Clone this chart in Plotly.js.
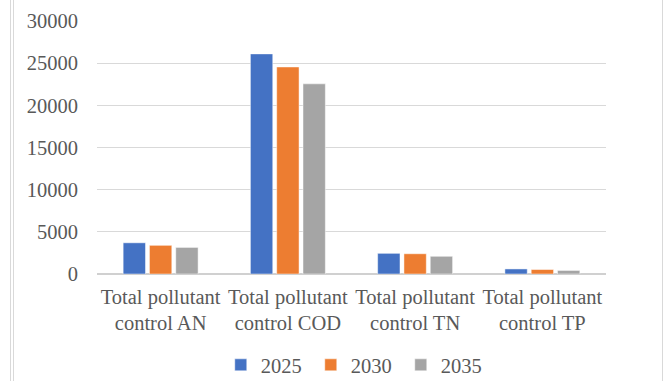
<!DOCTYPE html>
<html>
<head>
<meta charset="utf-8">
<script src="https://cdn.plot.ly/plotly-3.0.1.min.js"></script>
<style>
  html, body { margin: 0; padding: 0; background: #fff; }
  #wrap { position: relative; width: 669px; height: 381px; overflow: hidden; }
  #chart { position: absolute; left: 0; top: 0; width: 669px; height: 381px; }
  #chart svg text { font-family: 'Liberation Serif', 'Times New Roman', serif !important; }
  .frame { position: absolute; background: #d9d9d9; }
</style>
</head>
<body>
<div id="wrap">
  <div id="chart"></div>
  <div class="frame" style="left:10px; top:0; width:1px; height:381px;"></div>
  <div class="frame" style="left:13px; top:0; width:1px; height:381px;"></div>
  <div class="frame" style="left:662px; top:0; width:1px; height:381px;"></div>
</div>
<script>
// Pollutant control totals by target year
const categories = [
  "Total pollutant<br>control AN",
  "Total pollutant<br>control COD",
  "Total pollutant<br>control TN",
  "Total pollutant<br>control TP"
];
const years = ["2025", "2030", "2035"];
const values2025 = [3700, 26100, 2450, 600];
const values2030 = [3400, 24550, 2400, 530];
const values2035 = [3150, 22550, 2100, 420];
const yTicks = [0, 5000, 10000, 15000, 20000, 25000, 30000];

const colors = ["#4472C4", "#ED7D31", "#A5A5A5"];
const series = [values2025, values2030, values2035];

const traces = series.map((vals, i) => ({
  type: "bar",
  name: years[i],
  x: categories,
  y: vals,
  marker: { color: colors[i], line: { color: "rgba(255,255,255,0.6)", width: 0.8 } },
  hoverinfo: "none"
}));

// a fresh font object for every place it is used
const serif = () => ({ family: "Liberation Serif", size: 20.5, color: "#595959" });

const layout = {
  width: 669,
  height: 381,
  margin: { l: 97, r: 63, t: 21, b: 107 },
  paper_bgcolor: "#ffffff",
  plot_bgcolor: "#ffffff",
  font: serif(),
  barmode: "group",
  bargap: 0.38,
  bargroupgap: 0.15,
  showlegend: true,
  legend: {
    orientation: "h",
    xref: "container", yref: "container",
    x: 0.33, xanchor: "left",
    y: 0.042, yanchor: "middle",
    font: serif(),
    itemwidth: 30,
    entrywidth: 45,
    traceorder: "normal"
  },
  xaxis: {
    type: "category",
    showgrid: false,
    showline: false,
    zeroline: false,
    ticks: "outside",
    ticklen: 4,
    tickcolor: "rgba(0,0,0,0)",
    tickfont: serif(),
    tickangle: 0,
    automargin: false
  },
  yaxis: {
    range: [0, 30000],
    tickmode: "array",
    tickvals: yTicks,
    ticktext: yTicks.map(String),
    showgrid: true,
    gridcolor: "#d9d9d9",
    gridwidth: 1,
    zeroline: true,
    zerolinecolor: "#d0d0d0",
    zerolinewidth: 1.5,
    showline: false,
    ticks: "outside",
    ticklen: 14,
    tickcolor: "rgba(0,0,0,0)",
    tickfont: serif(),
    automargin: false
  }
};

Plotly.newPlot("chart", traces, layout, { displayModeBar: false, staticPlot: true });
</script>
</body>
</html>
